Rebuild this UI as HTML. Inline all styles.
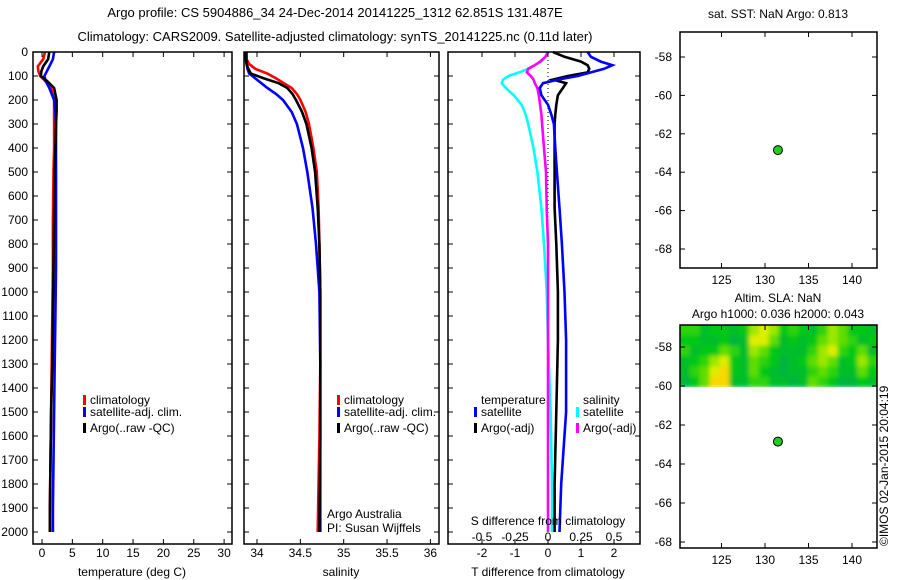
<!DOCTYPE html>
<html><head><meta charset="utf-8"><style>
body{margin:0;background:#fff}
svg{display:block;font-family:"Liberation Sans",sans-serif}
text{font-size:12px;fill:#000}
</style></head><body>
<svg id="c" width="900" height="580" viewBox="0 0 900 580">
<defs>
<filter id="bl" x="-5%" y="-5%" width="110%" height="110%"><feGaussianBlur stdDeviation="2"/></filter>
<clipPath id="hc"><rect x="680" y="325" width="197" height="62"/></clipPath>
</defs>
<text x="335" y="17" text-anchor="middle" style="font-size:13px">Argo profile: CS 5904886_34 24-Dec-2014 20141225_1312 62.851S 131.487E</text>
<text x="335" y="41" text-anchor="middle" style="font-size:13px">Climatology: CARS2009. Satellite-adjusted climatology: synTS_20141225.nc (0.11d later)</text>
<text x="778" y="18" text-anchor="middle">sat. SST: NaN Argo: 0.813</text>
<text x="778" y="302" text-anchor="middle">Altim. SLA: NaN</text>
<text x="778" y="318" text-anchor="middle">Argo h1000: 0.036 h2000: 0.043</text>
<text transform="translate(888,546) rotate(-90)">©IMOS 02-Jan-2015 20:04:19</text>
<g id="hm" clip-path="url(#hc)"><g id="hmb" filter="url(#bl)"></g></g>
<g id="g"></g>
</svg>
<script>
// ---- data ----
const tDepth=[0,30,60,80,100,120,150,200,250,300,400,500,700,900,1100,1300,1500,1700,1900,2000];
const tClim=[0.5,0.2,-0.7,-0.6,-0.3,0.5,1.5,2.0,2.0,2.0,2.0,1.9,1.8,1.8,1.7,1.6,1.5,1.4,1.3,1.3];
const tSat=[2.0,1.8,1.2,0.8,0.4,0.6,1.2,2.0,2.2,2.3,2.3,2.3,2.3,2.3,2.2,2.1,2.0,1.9,1.8,1.8];
const tArgo=[1.2,1.0,0.2,-0.1,-0.2,0.8,2.0,2.4,2.4,2.3,2.2,2.1,2.0,1.9,1.8,1.7,1.5,1.4,1.3,1.3];
const sDepth=[0,30,50,70,90,110,130,150,175,200,250,300,400,500,650,800,1000,1300,1600,2000];
const sClim=[33.87,33.88,33.91,33.98,34.12,34.22,34.31,34.40,34.46,34.50,34.56,34.60,34.65,34.69,34.71,34.72,34.73,34.73,34.72,34.70];
const sArgo=[33.87,33.87,33.88,33.90,33.93,34.08,34.25,34.35,34.41,34.45,34.52,34.57,34.63,34.67,34.70,34.72,34.73,34.73,34.73,34.72];
const sSat=[33.88,33.88,33.88,33.89,33.91,33.98,34.05,34.12,34.22,34.30,34.40,34.46,34.53,34.58,34.64,34.68,34.72,34.73,34.73,34.73];
const dDepth=[0,20,40,55,70,85,100,115,130,150,180,220,260,300,400,500,650,800,1000,1200,1500,1800,2000];
const dTSat=[1.2,1.3,1.6,1.95,1.7,1.3,0.9,0.3,-0.15,-0.25,-0.2,0.0,0.1,0.18,0.22,0.27,0.35,0.42,0.5,0.55,0.55,0.4,0.35];
const dTArgo=[0.15,0.5,1.0,1.2,1.25,1.2,0.6,0.15,0.55,0.45,0.3,0.25,0.22,0.2,0.2,0.2,0.2,0.25,0.3,0.3,0.25,0.2,0.2];
const dSSat=[0,-0.02,-0.05,-0.1,-0.15,-0.22,-0.3,-0.34,-0.35,-0.32,-0.26,-0.2,-0.17,-0.15,-0.11,-0.08,-0.05,-0.03,-0.01,0.0,0.02,0.03,0.03];
const dSArgo=[0,-0.02,-0.06,-0.1,-0.15,-0.16,-0.13,-0.11,-0.1,-0.08,-0.07,-0.06,-0.05,-0.045,-0.03,-0.015,-0.01,0,0,0,0,0,0];
const depthTicks=[0,100,200,300,400,500,600,700,800,900,1000,1100,1200,1300,1400,1500,1600,1700,1800,1900,2000];
const tTicks=[0,5,10,15,20,25,30];
const sTicks=[34,34.5,35,35.5,36];
const dTTicks=[-2,-1,0,1,2];
const dSTicks=[-0.5,-0.25,0,0.25,0.5];
const dSTickLabels=["-0.5","-0.25","0","0.25","0.5"];
const lonTicks=[125,130,135,140];
const latTicks=[-58,-60,-62,-64,-66,-68];
const floatLon=131.487, floatLat=-62.851;
const slaGrid=[
"55344347874543576443",
"44334238863434676534",
"53446537643335785463",
"34578436542346763475",
"35689436432335653364",
"24699335533236542243"];
// ---- helpers ----
const NS="http://www.w3.org/2000/svg";
const G=document.getElementById('g');
function mk(t,a,p){const e=document.createElementNS(NS,t);for(const k in a)e.setAttribute(k,a[k]);(p||G).appendChild(e);return e;}
const Y0=52,YB=544;
const yD=d=>Y0+d*0.24;
const xT=v=>42+v*6.07;
const xS=v=>257+(v-34)*86.7;
const xDT=v=>548+v*33;
const xDS=v=>548+v*132;
function box(x0,y0,x1,y1,name){
  const r=mk('rect',{x:x0,y:y0,width:x1-x0,height:y1-y0,fill:'none',stroke:'#000','stroke-width':1.5});
  
  
}
function xticks(vals,fx,y0,y1,labels,ly,name){
  vals.forEach((v,i)=>{const x=fx(v);
    const a=mk('line',{x1:x,x2:x,y1:y0,y2:y0+5,stroke:'#000'});
    
    const b=mk('line',{x1:x,x2:x,y1:y1,y2:y1-5,stroke:'#000'});
    
    if(labels){const t=mk('text',{x:x,y:ly,'text-anchor':'middle'});t.textContent=labels[i];
      }
  });
}
function yticks(vals,fy,x0,x1,labels,lx,name){
  vals.forEach((v,i)=>{const y=fy(v);
    const a=mk('line',{x1:x0,x2:x0+5,y1:y,y2:y,stroke:'#000'});
    
    const b=mk('line',{x1:x1,x2:x1-5,y1:y,y2:y,stroke:'#000'});
    
    if(labels){const t=mk('text',{x:lx,y:y+4,'text-anchor':'end'});t.textContent=labels[i];
      }
  });
}
function line(vals,depths,fx,color,name){
  const pts=vals.map((v,i)=>fx(v).toFixed(1)+','+yD(depths[i]).toFixed(1)).join(' ');
  const p=mk('polyline',{points:pts,fill:'none',stroke:color,'stroke-width':2.6,'stroke-linejoin':'miter'});
  
  
}
function txt(x,y,s,name,anchor){const t=mk('text',{x:x,y:y,'text-anchor':anchor||'start'});t.textContent=s;
  }
function leg(x,y,color,s,name){const r=mk('rect',{x:x,y:y-9,width:3,height:10,fill:color});
  
  txt(x+7,y,s,name+'-label');}
// ---- panel 1 temperature ----
line(tClim,tDepth,xT,'#f00','temp-climatology-line');
line(tSat,tDepth,xT,'#00f','temp-satellite-line');
line(tArgo,tDepth,xT,'#000','temp-argo-line');
box(33,Y0,232,YB,'temperature-axes');
yticks(depthTicks,yD,33,232,depthTicks.map(String),28,'depth');
xticks(tTicks,xT,Y0,YB,tTicks.map(String),557,'temperature');
txt(132,576,'temperature (deg C)','temperature-axis-title','middle');
leg(83,404,'#f00','climatology','legend-climatology');
leg(83,416,'#00f','satellite-adj. clim.','legend-satellite-adj');
leg(83,432,'#000','Argo(..raw -QC)','legend-argo');
// ---- panel 2 salinity ----
line(sClim,sDepth,xS,'#f00','sal-climatology-line');
line(sSat,sDepth,xS,'#00f','sal-satellite-line');
line(sArgo,sDepth,xS,'#000','sal-argo-line');
box(244,Y0,439,YB,'salinity-axes');
yticks(depthTicks,yD,244,439,null,0,'sal-depth');
xticks(sTicks,xS,Y0,YB,sTicks.map(String),557,'salinity');
txt(341,576,'salinity','salinity-axis-title','middle');
leg(337,404,'#f00','climatology','legend2-climatology');
leg(337,416,'#00f','satellite-adj. clim.','legend2-satellite-adj');
leg(337,432,'#000','Argo(..raw -QC)','legend2-argo');
txt(327,518,'Argo Australia','argo-australia-label');
txt(327,532,'PI: Susan Wijffels','pi-label');
// ---- panel 3 differences ----
const zl=mk('line',{x1:548,x2:548,y1:Y0,y2:300,stroke:'#000','stroke-dasharray':'1,3'});

line(dSSat,dDepth,xDS,'#0ff','sdiff-satellite-line');
line(dSArgo,dDepth,xDS,'#f0f','sdiff-argo-line');
line(dTArgo,dDepth,xDT,'#000','tdiff-argo-line');
line(dTSat,dDepth,xDT,'#00f','tdiff-satellite-line');
box(448,Y0,640,YB,'difference-axes');
yticks(depthTicks,yD,448,640,null,0,'diff-depth');
xticks(dTTicks,xDT,Y0,YB,dTTicks.map(String),557,'tdiff');
dSTicks.forEach((v,i)=>txt(xDS(v),541,dSTickLabels[i],'sdiff-tick-label','middle'));
txt(548,525,'S difference from climatology','sdiff-axis-title','middle');
txt(548,576,'T difference from climatology','tdiff-axis-title','middle');
txt(481,404,'temperature','legend3-temp-header');
leg(474,416,'#00f','satellite','legend3-temp-satellite');
leg(474,432,'#000','Argo(-adj)','legend3-temp-argo');
txt(583,404,'salinity','legend3-sal-header');
leg(576,416,'#0ff','satellite','legend3-sal-satellite');
leg(576,432,'#f0f','Argo(-adj)','legend3-sal-argo');
// ---- maps ----
const lonX=v=>765+(v-130)*8.7;
const latY1=v=>57+(-58-v)*19.2;
const latY2=v=>347+(-58-v)*19.5;
function col(v){const s=[[0,[0,160,100]],[0.45,[0,200,20]],[0.7,[110,225,0]],[0.88,[220,240,0]],[1,[250,215,0]]];
  for(let i=1;i<s.length;i++){if(v<=s[i][0]){const [a,ca]=s[i-1],[b,cb]=s[i];const t=(v-a)/(b-a);
    return 'rgb('+ca.map((c,k)=>Math.round(c+(cb[k]-c)*t)).join(',')+')';}}return 'rgb(250,215,0)';}
const HB=document.getElementById('hmb');
const hx0=680,hx1=877,hy0=325,hy1=387;
const cw=(hx1-hx0)/slaGrid[0].length, ch=(hy1-hy0)/slaGrid.length;
slaGrid.forEach((row,r)=>{for(let c=0;c<row.length;c++){
  const cell=mk('rect',{x:hx0+c*cw-(c==0?6:0),y:hy0+r*ch-(r==0?6:0),width:cw+0.6+(c==0||c==row.length-1?6:0),height:ch+0.6+(r==0?6:0),fill:col(+row[c]/9)},HB);
  
  }});
[[32,268,latY1,'sst-map'],[325,548,latY2,'sla-map']].forEach(([y0,y1,fy,n])=>{
  box(680,y0,877,y1,n+'-axes');
  xticks(lonTicks,lonX,y0,y1,lonTicks.map(String),y1+16,n+'-lon');
  yticks(latTicks,fy,680,877,latTicks.map(String),672,n+'-lat');
  const d=mk('circle',{cx:lonX(floatLon),cy:fy(floatLat),r:4.5,fill:'#2c2',stroke:'#000','stroke-width':1});
  
  
});
</script>
</body></html>
